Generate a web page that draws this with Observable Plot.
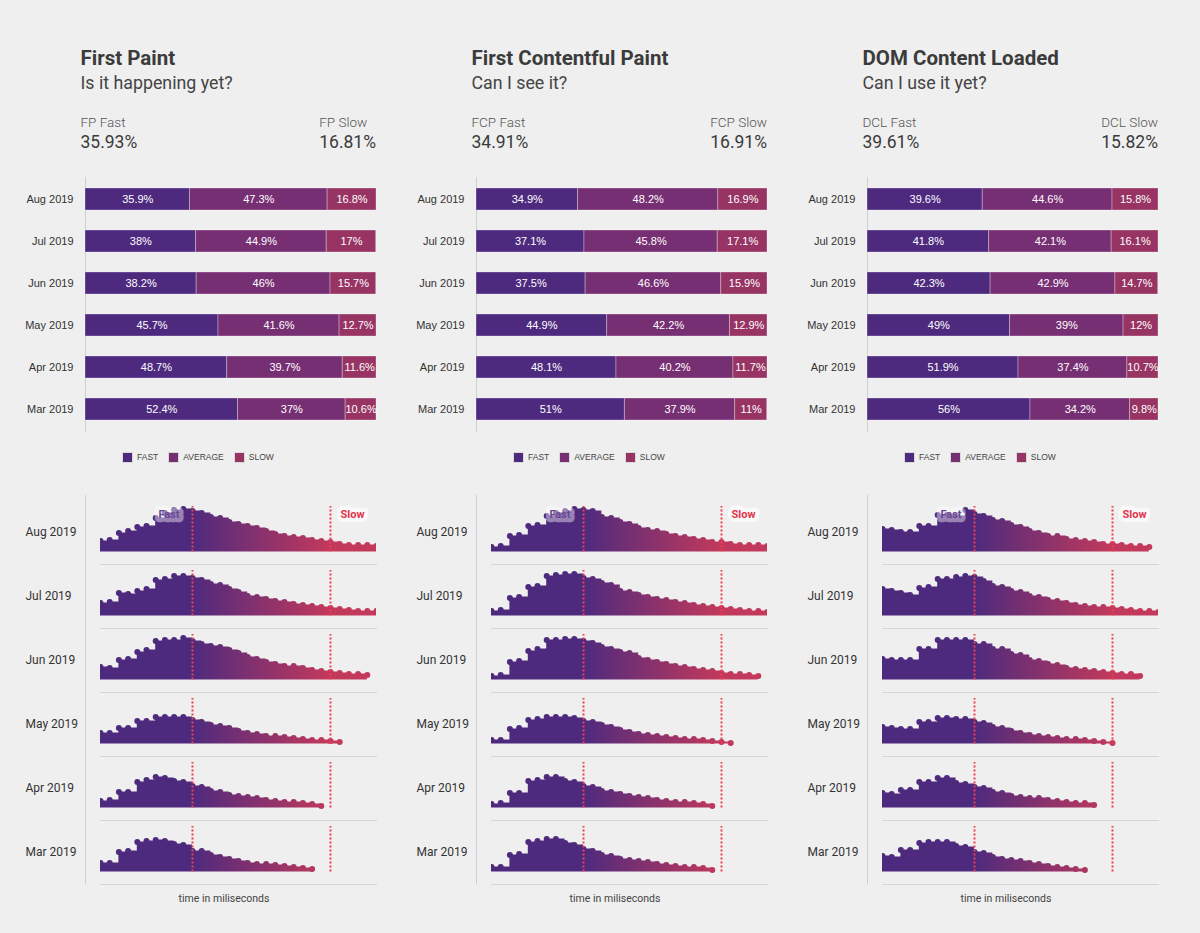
<!DOCTYPE html>
<html><head><meta charset="utf-8">
<script src="https://cdn.jsdelivr.net/npm/d3@7"></script>
<script src="https://cdn.jsdelivr.net/npm/@observablehq/plot@0.6"></script>
<style>
html,body{margin:0;padding:0;background:#efefef;width:1200px;height:933px;overflow:hidden;}
.col{position:absolute;top:0;width:391px;height:933px;font-family:Roboto,sans-serif;color:#3d3d3d;}
.title{position:absolute;left:80.5px;top:47.5px;font-size:20.5px;line-height:20.5px;font-weight:700;white-space:nowrap;color:#3b3b3b}
.subtitle{position:absolute;left:80.5px;top:74.2px;font-size:17.8px;line-height:17.8px;color:#444;white-space:nowrap}
.kpi{position:absolute;top:115.5px;white-space:nowrap;text-align:left}
.kpi .lab{font-size:13.5px;line-height:13.5px;font-weight:300;color:#555}
.kpi .val{font-size:17.5px;line-height:17.5px;margin-top:4.7px;color:#3a3a3a}
.chart{position:absolute;left:0}
.legend{position:absolute;left:123px;top:452px;display:flex;align-items:center;font-family:'Liberation Sans',Arial,sans-serif;font-size:8.5px;color:#444;height:10px}
.item{display:flex;align-items:center;margin-right:11px}
.sw{display:inline-block;width:9px;height:9px;margin-right:5px;box-shadow:0 0 0 1px #d9d9d9}
.vline{position:absolute;left:85px;top:495px;height:389px;border-left:1px solid #d0d0d0}
.xlab{position:absolute;left:0;width:448px;text-align:center;top:893px;font-size:10.5px;line-height:12px;color:#444}
</style></head>
<body>
<script>
// ---------- data ----------
const months = ["Aug 2019", "Jul 2019", "Jun 2019", "May 2019", "Apr 2019", "Mar 2019"];
const categories = ["FAST", "AVERAGE", "SLOW"];
const categoryColors = ["#4e2a7f", "#772f74", "#973463"];

const titles = ["First Paint", "First Contentful Paint", "DOM Content Loaded"];
const subtitles = ["Is it happening yet?", "Can I see it?", "Can I use it yet?"];
const abbrs = ["FP", "FCP", "DCL"];
const fastTotals = ["35.93%", "34.91%", "39.61%"];
const slowTotals = ["16.81%", "16.91%", "15.82%"];

// share of page loads per month: [fast, average, slow]
const fpShares  = [[35.9,47.3,16.8],[38,44.9,17],[38.2,46,15.7],[45.7,41.6,12.7],[48.7,39.7,11.6],[52.4,37,10.6]];
const fcpShares = [[34.9,48.2,16.9],[37.1,45.8,17.1],[37.5,46.6,15.9],[44.9,42.2,12.9],[48.1,40.2,11.7],[51,37.9,11]];
const dclShares = [[39.6,44.6,15.8],[41.8,42.1,16.1],[42.3,42.9,14.7],[49,39,12],[51.9,37.4,10.7],[56,34.2,9.8]];

// histogram density per 100 ms bin (relative units), one row per month
const binMs = 100;
const fastMs = 1000;
const slowMs = 2500;
const fpHist = [
 [11,12,19,21,25,26,34,39,42,43,41,39,35,34,30,28,26,24,21,18,16,15,14,12,11,10,8,7,7,7,6],
 [13,14,23,22,25,27,36,37,40,40,38,36,32,31,27,24,20,19,17,15,14,12,11,10,9,8,7,6,5,5,5],
 [13,12,20,21,28,30,39,40,40,42,39,36,34,33,30,27,23,21,18,16,14,14,12,10,9,8,7,6,6,5],
 [11,11,16,16,23,23,27,27,27,27,24,22,19,18,16,13,11,10,8,8,7,6,5,4,4,3,2],
 [7,8,16,16,26,28,31,30,27,26,22,21,17,16,13,12,11,10,8,7,6,6,5,4,2],
 [9,9,20,21,30,31,32,31,28,27,21,21,17,15,13,11,9,8,8,7,6,5,4,3]
];
const fcpHist = [
 [5,6,16,17,26,27,36,39,41,43,42,41,35,34,30,28,24,22,21,18,16,15,13,12,10,10,8,7,7,7,6],
 [5,6,18,19,29,30,40,41,42,42,38,37,33,31,25,24,21,19,17,16,14,13,11,10,9,8,7,6,5,5,4],
 [4,5,18,19,29,31,40,40,41,41,39,37,33,31,28,27,22,20,18,16,14,13,11,10,9,7,6,6,5,4],
 [4,4,15,16,24,25,27,27,27,26,23,22,19,17,14,12,10,9,8,7,6,5,5,4,3,2,1],
 [4,5,15,15,27,28,31,31,27,26,22,21,17,16,14,12,11,10,8,7,6,6,5,4,2],
 [5,5,17,18,30,31,33,33,29,27,23,21,17,16,13,12,11,10,8,7,6,5,5,4,2]
];
const dclHist = [
 [23,22,20,20,26,26,37,37,36,42,38,36,32,31,27,25,21,19,16,16,13,12,11,10,8,8,7,6,6,5],
 [27,25,23,21,28,29,37,37,39,40,39,35,30,29,25,24,20,19,16,15,13,11,10,9,9,8,7,6,5,5,4],
 [21,20,20,20,31,31,40,40,40,40,36,36,31,31,26,25,20,19,16,15,12,11,10,9,8,7,6,6,4],
 [17,16,15,15,22,22,26,26,25,25,22,21,17,16,13,11,9,8,7,6,5,5,4,3,2,1],
 [15,14,18,18,26,26,30,30,25,24,21,20,16,15,12,11,10,10,8,7,6,5,5,3],
 [16,15,22,22,29,30,30,30,26,25,20,19,15,13,12,11,9,8,6,5,4,3,2]
];
const sharesList = [fpShares, fcpShares, dclShares];
const histList = [fpHist, fcpHist, dclHist];
const thresholds = [{ms: fastMs, name: "Fast"}, {ms: slowMs, name: "Slow"}];
const maxMs = 3000;

// ---------- layout ----------
const colLeft = [0, 391, 782];

function el(tag, cls, parent, html) {
  const e = document.createElement(tag);
  if (cls) e.className = cls;
  if (html != null) e.innerHTML = html;
  parent.appendChild(e);
  return e;
}

titles.forEach((title, k) => {
  const col = el("div", "col", document.body);
  col.style.left = colLeft[k] + "px";
  el("div", "title", col, title);
  el("div", "subtitle", col, subtitles[k]);
  const kl = el("div", "kpi", col);
  kl.style.left = "80.5px";
  el("div", "lab", kl, abbrs[k] + " Fast");
  el("div", "val", kl, fastTotals[k]);
  const kr = el("div", "kpi", col);
  kr.style.right = "15px";
  el("div", "lab", kr, abbrs[k] + " Slow");
  el("div", "val", kr, slowTotals[k]);

  // stacked bars
  const rows = [];
  sharesList[k].forEach((s, i) => s.forEach((v, j) => rows.push({month: months[i], cat: categories[j], value: v})));
  const bar = Plot.plot({
    width: 391, height: 265, marginTop: 7, marginBottom: 4, marginLeft: 85, marginRight: 15,
    style: {background: "transparent", fontFamily: "'Liberation Sans', Arial, sans-serif", fontSize: "11px", color: "#333", overflow: "visible"},
    x: {domain: [0, 100], axis: null},
    y: {domain: months, paddingInner: 0.48, paddingOuter: 0.25, axis: null, label: null},
    color: {domain: categories, range: categoryColors},
    marks: [
      Plot.frame({anchor: "left", stroke: "#cfcfcf"}),
      Plot.barX(rows, {x: "value", y: "month", fill: "cat", z: "cat", stroke: "#ffffff", strokeOpacity: 0.3, strokeWidth: 1}),
      Plot.text(rows, Plot.stackX({x: "value", y: "month", z: "cat", text: d => d.value + "%", fill: "white", fontSize: 11})),
      Plot.axisY({domain: months, tickSize: 0, tickPadding: 12, label: null, fontSize: 11, fill: "#333"})
    ]
  });
  bar.classList.add("chart");
  bar.style.top = "170px";
  col.appendChild(bar);

  // legend
  const lg = el("div", "legend", col);
  categories.forEach((c, j) => {
    const it = el("div", "item", lg);
    const sw = el("span", "sw", it);
    sw.style.background = categoryColors[j];
    el("span", null, it, c);
  });

  // ridgeline histograms
  const ridge = [];
  histList[k].forEach((arr, i) => arr.forEach((v, b) => ridge.push({month: months[i], ms: b * binMs, v})));
  const gid = "grad-" + abbrs[k];
  const labels = [{month: months[0], ms: fastMs, text: "Fast"}, {month: months[0], ms: slowMs, text: "Slow"}];
  const rp = Plot.plot({
    width: 391, height: 389, marginTop: 4.5, marginBottom: 0.5, marginLeft: 100, marginRight: 15,
    style: {background: "transparent", fontFamily: "Roboto, sans-serif", fontSize: "12px", color: "#333", overflow: "visible"},
    x: {domain: [0, maxMs], axis: null},
    y: {domain: [-12.5, 51.5], axis: null},
    fy: {domain: months, padding: 0, axis: null, label: null},
    marks: [
      Plot.frame({anchor: "bottom", stroke: "#d6d6d6"}),
      Plot.areaY(ridge, {x: "ms", y: "v", fy: "month", curve: "step-after", fill: `url(#${gid})`, clip: true}),
      Plot.dot(ridge, {x: "ms", y: "v", fy: "month", r: 3, fill: `url(#${gid})`, clip: true}),
      Plot.ruleX(thresholds, {x: "ms", y1: 0, y2: 45.5, stroke: "#f03e52", strokeWidth: 2, strokeDasharray: "2 2"}),
      Plot.text(labels.slice(0,1), {x: "ms", y: 38, fy: "month", text: "text", textAnchor: "end", dx: -13, fontSize: 11, fontWeight: 700, fill: "white", stroke: "white", strokeWidth: 8.5, strokeLinejoin: "round", opacity: 0.42}),
      Plot.text(labels.slice(0,1), {x: "ms", y: 38, fy: "month", text: "text", textAnchor: "end", dx: -13, fontSize: 11, fontWeight: 700, fill: "#6a4694"}),
      Plot.text(labels.slice(1), {x: "ms", y: 38, fy: "month", text: "text", textAnchor: "start", dx: 10, fontSize: 11, fontWeight: 700, fill: "#fafafa", stroke: "#fafafa", strokeWidth: 8.5, strokeLinejoin: "round", opacity: 0.95}),
      Plot.text(labels.slice(1), {x: "ms", y: 38, fy: "month", text: "text", textAnchor: "start", dx: 10, fontSize: 11, fontWeight: 700, fill: "#e2354d"}),
      Plot.axisFy({anchor: "left", tickSize: 0, tickPadding: 75, textAnchor: "start", fontSize: 12, label: null, fill: "#333"})
    ]
  });
  const sx = rp.scale("x");
  const ns = "http://www.w3.org/2000/svg";
  const defs = document.createElementNS(ns, "defs");
  const lgd = document.createElementNS(ns, "linearGradient");
  lgd.setAttribute("id", gid);
  lgd.setAttribute("gradientUnits", "userSpaceOnUse");
  lgd.setAttribute("x1", sx.apply(fastMs));
  lgd.setAttribute("x2", sx.apply(slowMs));
  lgd.setAttribute("y1", 0);
  lgd.setAttribute("y2", 0);
  [["0", "#4e2a7e"], ["1", "#c3395b"]].forEach(([o, c]) => {
    const st = document.createElementNS(ns, "stop");
    st.setAttribute("offset", o);
    st.setAttribute("stop-color", c);
    lgd.appendChild(st);
  });
  defs.appendChild(lgd);
  rp.insertBefore(defs, rp.firstChild);
  rp.classList.add("chart");
  rp.style.top = "495px";
  col.appendChild(rp);

  el("div", "vline", col);
  el("div", "xlab", col, "time in miliseconds");
});
</script>
</body></html>
